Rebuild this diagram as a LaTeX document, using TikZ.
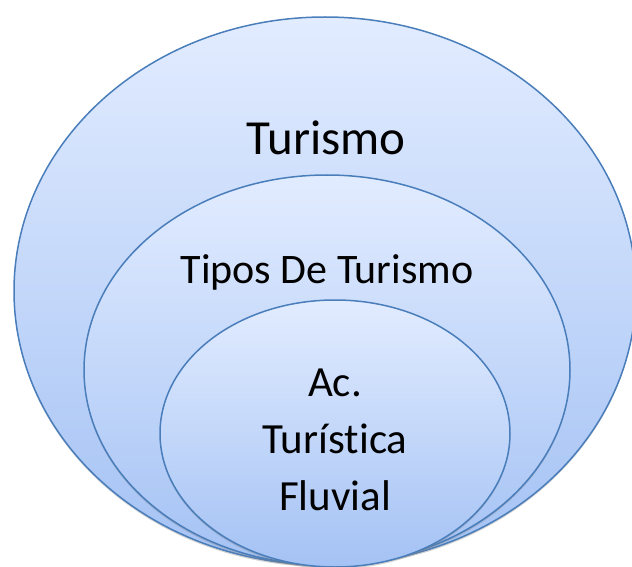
\documentclass[tikz,border=0pt]{standalone}
\usepackage{fontspec}
\setmainfont{Carlito}[Ligatures={NoCommon,NoRare}]
\usetikzlibrary{shapes.geometric,shadows}
\definecolor{ringline}{HTML}{4A7EBB}
\definecolor{ringtop}{HTML}{E2ECFF}
\definecolor{ringbot}{HTML}{A4C2F4}

\begin{document}
\begin{tikzpicture}[x=1pt, y=-1pt]
\tikzstyle{ring}=[ellipse, draw=ringline, line width=1.5pt, top color=ringtop, bottom color=ringbot, inner sep=0pt, drop shadow={shadow xshift=0pt, shadow yshift=-2pt, opacity=0.35}]
\tikzstyle{ringtext}=[font=\fontsize{42}{57}\selectfont, align=center, inner sep=0pt]

\useasboundingbox (0,0) rectangle (632,567);
\clip (0,0) rectangle (632,567);

\node[ring, minimum width=622pt, minimum height=548pt] (outer) at (325,291) {};
\node[ring, minimum width=486pt, minimum height=390pt] (middle) at (327,370) {};
\node[ring, minimum width=350pt, minimum height=267pt] (inner) at (335,433.5) {};

\node[ringtext, font=\fontsize{49}{57}\selectfont] (outerlabel) at (326,138) {Turismo};
\node[ringtext] (middlelabel) at (327,272) {Tipos De Turismo};
\node[ringtext, font=\fontsize{43}{57}\selectfont] (innerlabel) at (335,440) {Ac.\\Turís\kern0pt tica\\Fluvial};
\end{tikzpicture}
\end{document}
